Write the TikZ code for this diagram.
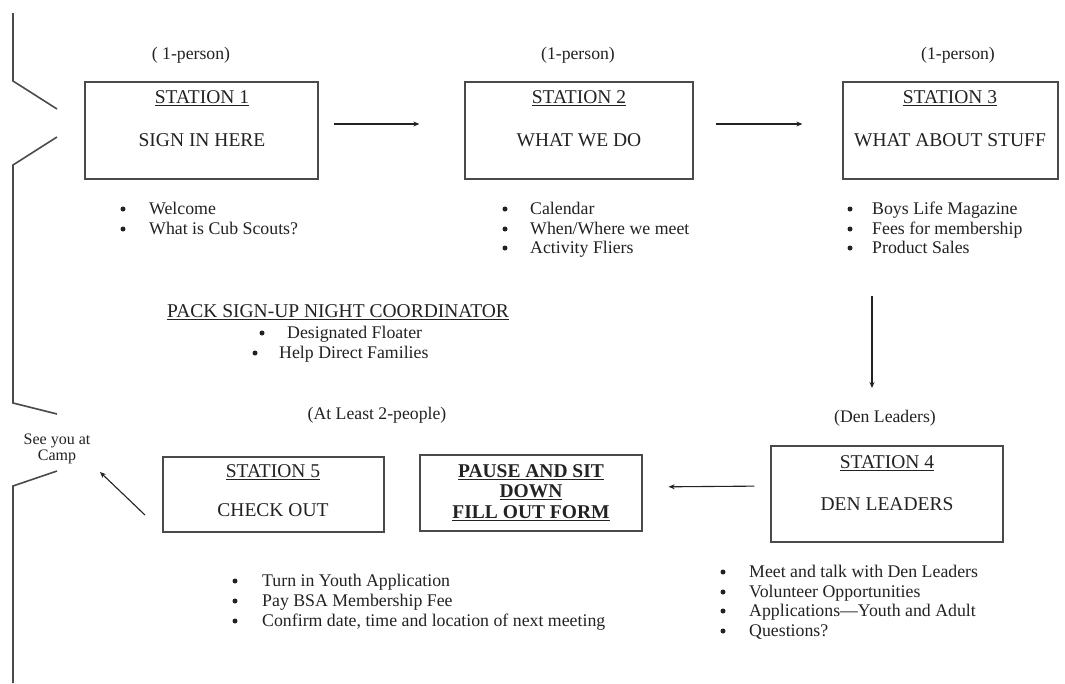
\documentclass[tikz,border=0pt]{standalone}
\usepackage{fontspec}
\setmainfont{Liberation Serif}
\usetikzlibrary{arrows.meta}
\definecolor{ink}{HTML}{222222}
\definecolor{frame}{HTML}{4A4A4A}
\begin{document}
\begin{tikzpicture}[x=1pt,y=-1pt,
  box/.style={draw=frame,line width=1.3pt,inner sep=0pt},
  ttl/.style={text=ink,font=\fontsize{19.5}{22}\selectfont,inner sep=0pt},
  hdr/.style={text=ink,font=\fontsize{17.7}{20}\selectfont,inner sep=0pt},
  bul/.style={text=ink,font=\fontsize{17.8}{20}\selectfont,inner sep=0pt,anchor=base west},
  dot/.style={circle,fill=ink,minimum size=5pt,inner sep=0pt},
  arr/.style={draw=ink,line width=1.1pt,-{Stealth[length=6pt,width=5pt]}},
  brk/.style={draw=frame,line width=1.6pt}]
\useasboundingbox (0,0) rectangle (1065,683);
\fill[white] (0,0) rectangle (1065,683);

% left bracket
\draw[brk] (13,13) -- (13,81) -- (57,109);
\draw[brk] (57,137) -- (13,165) -- (13,403) -- (57,414);
\draw[brk] (57,471) -- (13,486) -- (13,683);
\node[text=ink,font=\fontsize{16}{15.5}\selectfont,align=center,inner sep=0pt] (camp) at (57,449) {See you at\\Camp};

% boxes
\node[box,minimum width=233pt,minimum height=97pt] (b1) at (201.5,130.5) {};
\node[box,minimum width=228pt,minimum height=97pt] (b2) at (579,130.5) {};
\node[box,minimum width=215pt,minimum height=97pt] (b3) at (950.5,130.5) {};
\node[box,minimum width=232pt,minimum height=96pt] (b4) at (887,494) {};
\node[box,minimum width=222pt,minimum height=76pt] (bp) at (531,493) {};
\node[box,minimum width=221pt,minimum height=75pt] (b5) at (273.5,494.5) {};

% box texts
\node[ttl] (t1a) at (202,98) {\underline{STATION 1}};
\node[ttl] (t1b) at (202,140) {SIGN IN HERE};
\node[ttl] (t2a) at (579,98) {\underline{STATION 2}};
\node[ttl] (t2b) at (579,140) {WHAT WE DO};
\node[ttl] (t3a) at (950,98) {\underline{STATION 3}};
\node[ttl] (t3b) at (950,140) {WHAT ABOUT STUFF};
\node[ttl] (t4a) at (887,463) {\underline{STATION 4}};
\node[ttl] (t4b) at (887,504) {DEN LEADERS};
\node[ttl] (t5a) at (273,472) {\underline{STATION 5}};
\node[ttl] (t5b) at (273,510) {CHECK OUT};
\node[ttl,font=\fontsize{19.5}{20.5}\selectfont\bfseries] (tpa) at (531,472) {\underline{PAUSE AND SIT}};
\node[ttl,font=\fontsize{19.5}{20.5}\selectfont\bfseries] (tpb) at (531,492) {\underline{DOWN}};
\node[ttl,font=\fontsize{19.5}{20.5}\selectfont\bfseries] (tpc) at (531,513) {\underline{FILL OUT FORM}};

% headers
\node[hdr] (h1) at (191,55) {( 1-person)};
\node[hdr] (h2) at (578,55) {(1-person)};
\node[hdr] (h3) at (958,55) {(1-person)};
\node[hdr] (h4) at (885,418) {(Den Leaders)};
\node[hdr] (h5) at (377,415) {(At Least 2-people)};

% bullets station 1 (text placed on baseline, dot at mid x-height)
\node[dot] (d11) at (123,209) {}; \node[bul] (l11) at (149,214) {Welcome};
\node[dot] (d12) at (123,229) {}; \node[bul] (l12) at (149,234) {What is Cub Scouts?};
% station 2
\node[dot] (d21) at (505,209) {}; \node[bul] (l21) at (530,214) {Calendar};
\node[dot] (d22) at (505,229) {}; \node[bul] (l22) at (530,234) {When/Where we meet};
\node[dot] (d23) at (505,248) {}; \node[bul] (l23) at (530,253) {Activity Fliers};
% station 3
\node[dot] (d31) at (850,209) {}; \node[bul] (l31) at (872,214) {Boys Life Magazine};
\node[dot] (d32) at (850,229) {}; \node[bul] (l32) at (872,234) {Fees for membership};
\node[dot] (d33) at (850,248) {}; \node[bul] (l33) at (872,253) {Product Sales};
% station 4
\node[dot] (d41) at (723,572) {}; \node[bul] (l41) at (749,577) {Meet and talk with Den Leaders};
\node[dot] (d42) at (723,592) {}; \node[bul] (l42) at (749,597) {Volunteer Opportunities};
\node[dot] (d43) at (723,611) {}; \node[bul] (l43) at (749,616) {Applications—Youth and Adult};
\node[dot] (d44) at (723,631) {}; \node[bul] (l44) at (749,636) {Questions?};
% station 5
\node[dot] (d51) at (235,581) {}; \node[bul] (l51) at (262,586) {Turn in Youth Application};
\node[dot] (d52) at (235,601) {}; \node[bul] (l52) at (262,606) {Pay BSA Membership Fee};
\node[dot] (d53) at (235,621) {}; \node[bul] (l53) at (262,626) {Confirm date, time and location of next meeting};

% coordinator
\node[ttl,anchor=west] (co) at (167,312) {\underline{PACK SIGN-UP NIGHT COORDINATOR}};
\node[dot] (dc1) at (262,333) {}; \node[bul] (lc1) at (287,338) {Designated Floater};
\node[dot] (dc2) at (255,353) {}; \node[bul] (lc2) at (279,358) {Help Direct Families};

% arrows
\draw[arr,shorten <=15pt,shorten >=45pt] ([yshift=6.5pt]b1.east) -- ([yshift=6.5pt]b2.west);
\draw[arr,shorten <=22pt,shorten >=40pt] ([yshift=6.5pt]b2.east) -- ([yshift=6.5pt]b3.west);
\coordinate (v1) at (872,296);
\coordinate (v2) at (872,388);
\draw[arr] (v1) -- (v2);
\draw[arr,shorten <=16pt,shorten >=26pt] ([yshift=8pt]b4.west) -- ([yshift=6pt]bp.east);
\coordinate (c1) at (145,515);
\coordinate (c2) at (100,472);
\draw[arr] (c1) -- (c2);
\end{tikzpicture}
\end{document}
